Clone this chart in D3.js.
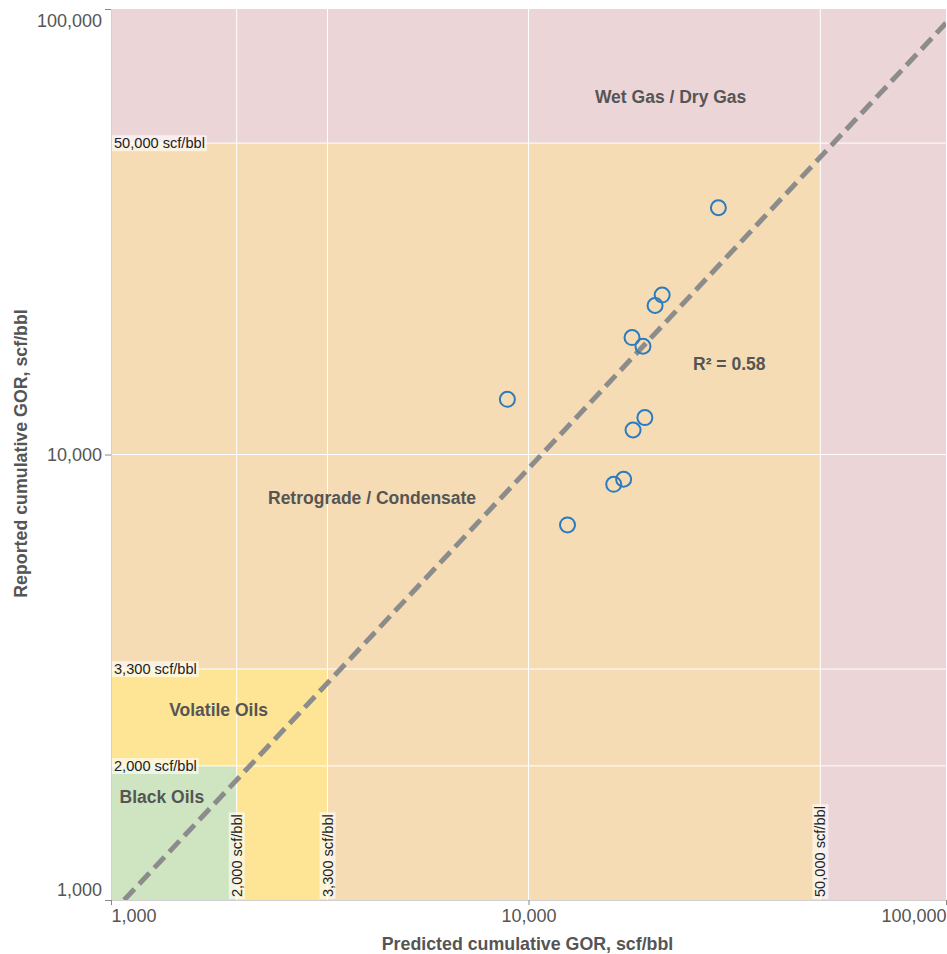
<!DOCTYPE html>
<html>
<head>
<meta charset="utf-8">
<script src="https://cdn.jsdelivr.net/npm/d3@7/dist/d3.min.js"></script>
<style>
  html, body { margin: 0; padding: 0; background: #fff; }
  svg { display: block; font-family: "Liberation Sans", Arial, sans-serif; }
</style>
</head>
<body>
<svg id="chart" width="947" height="954"></svg>
<script>
// Wells: predicted vs reported cumulative GOR (scf/bbl)
const predictedGOR = [28500, 20900, 20100, 17700, 18800, 8900, 19000, 17800, 16900, 16000, 12400];
const reportedGOR  = [35800, 22800, 21600, 18300, 17500, 13300, 12100, 11350, 8800, 8570, 6950];

// Fluid-type thresholds (scf/bbl)
const thresholds = [2000, 3300, 50000];
const thresholdLabels = ["2,000 scf/bbl", "3,300 scf/bbl", "50,000 scf/bbl"];
const gridValues = [2000, 3300, 10000, 50000];

// Axis ticks
const tickValues = [1000, 10000, 100000];
const tickLabels = ["1,000", "10,000", "100,000"];

// Trend line through the origin and its fit
const trendSlope = 0.93;
const rSquaredLabel = "R\u00B2 = 0.58";

// Fluid-type zones: [xMin, xMax, yMin, yMax]
const zoneNames  = ["Wet Gas / Dry Gas", "Retrograde / Condensate", "Volatile Oils", "Black Oils"];
const zoneBounds = [[1000, 100000, 1000, 100000], [1000, 50000, 1000, 50000], [1000, 3300, 1000, 3300], [1000, 2000, 1000, 2000]];
const zoneColors = ["#ecd5d7", "#f6dcb4", "#fee596", "#cfe5c1"];
// Zone label anchor points in data units
const zoneLabelX = [21900, 4220, 1810, 1324];
const zoneLabelY = [63500, 7990, 2670, 1700];

const svg = d3.select("#chart");
const plotLeft = 111, plotRight = 946, plotTop = 9, plotBottom = 900;

const x = d3.scaleLog().domain([1000, 100000]).range([plotLeft, plotRight]);
const y = d3.scaleLog().domain([1000, 100000]).range([plotBottom, plotTop]);

svg.append("defs").append("clipPath").attr("id", "plot-clip")
  .append("rect").attr("x", plotLeft).attr("y", plotTop)
  .attr("width", plotRight - plotLeft).attr("height", plotBottom - plotTop);

const plot = svg.append("g").attr("clip-path", "url(#plot-clip)");

// Zones
plot.selectAll("rect.zone").data(zoneBounds).join("rect")
  .attr("class", "zone")
  .attr("x", d => x(d[0]))
  .attr("y", d => y(d[3]))
  .attr("width", d => x(d[1]) - x(d[0]))
  .attr("height", d => y(d[2]) - y(d[3]))
  .attr("fill", (d, i) => zoneColors[i]);

// Grid lines
plot.selectAll("line.gx").data(gridValues).join("line")
  .attr("class", "gx")
  .attr("x1", d => x(d)).attr("x2", d => x(d))
  .attr("y1", plotTop).attr("y2", plotBottom)
  .attr("stroke", "#fff").attr("stroke-width", 1);
plot.selectAll("line.gy").data(gridValues).join("line")
  .attr("class", "gy")
  .attr("y1", d => y(d)).attr("y2", d => y(d))
  .attr("x1", plotLeft).attr("x2", plotRight)
  .attr("stroke", "#fff").attr("stroke-width", 1);

// Threshold labels on the left (horizontal) and bottom (vertical)
const tagFont = 14.6;
thresholds.forEach((v, i) => {
  const gh = plot.append("g");
  const th = gh.append("text")
    .attr("x", plotLeft + 3).attr("y", y(v)).attr("dy", "0.35em")
    .attr("font-size", tagFont).attr("fill", "#222")
    .text(thresholdLabels[i]);
  const bh = th.node().getBBox();
  gh.insert("rect", "text")
    .attr("x", plotLeft + 1).attr("y", bh.y)
    .attr("width", bh.width + 4).attr("height", bh.height)
    .attr("fill", "#fff").attr("fill-opacity", 0.6);

  const gv = plot.append("g").attr("transform", `translate(${x(v)},${plotBottom - 3}) rotate(-90)`);
  const tv = gv.append("text")
    .attr("x", 0).attr("y", 0).attr("dy", "0.35em")
    .attr("font-size", tagFont).attr("fill", "#222")
    .text(thresholdLabels[i]);
  const bv = tv.node().getBBox();
  gv.insert("rect", "text")
    .attr("x", -2).attr("y", bv.y)
    .attr("width", bv.width + 4).attr("height", bv.height)
    .attr("fill", "#fff").attr("fill-opacity", 0.6);
});

// Zone names
svg.selectAll("text.zone-label").data(zoneNames).join("text")
  .attr("class", "zone-label")
  .attr("x", (d, i) => x(zoneLabelX[i]))
  .attr("y", (d, i) => y(zoneLabelY[i]))
  .attr("dy", "0.35em")
  .attr("text-anchor", "middle")
  .attr("font-size", 17.5).attr("font-weight", "bold").attr("fill", "#555")
  .text(d => d);

// Trend line y = slope * x
const trendX = [1000 / trendSlope, 100000];
plot.append("path")
  .datum(trendX)
  .attr("d", d3.line().x(d => x(d)).y(d => y(trendSlope * d)))
  .attr("fill", "none")
  .attr("stroke", "#8c8c8c")
  .attr("stroke-width", 5)
  .attr("stroke-dasharray", "15,7");

svg.append("text")
  .attr("x", x(30260)).attr("y", y(15970)).attr("dy", "0.35em")
  .attr("text-anchor", "middle")
  .attr("font-size", 17.5).attr("font-weight", "bold").attr("fill", "#555")
  .text(rSquaredLabel);

// Data points
plot.selectAll("circle.pt").data(predictedGOR).join("circle")
  .attr("class", "pt")
  .attr("cx", d => x(d))
  .attr("cy", (d, i) => y(reportedGOR[i]))
  .attr("r", 7.5)
  .attr("fill", "none")
  .attr("stroke", "#2b7bbf")
  .attr("stroke-width", 2);

// Axes
const fmt = v => tickLabels[tickValues.indexOf(v)];
const yAxis = svg.append("g").attr("transform", `translate(${plotLeft},0)`)
  .call(d3.axisLeft(y).tickValues(tickValues).tickFormat(fmt).tickSize(6).tickPadding(3));
const xAxis = svg.append("g").attr("transform", `translate(0,${plotBottom})`)
  .call(d3.axisBottom(x).tickValues(tickValues).tickFormat(fmt).tickSize(5).tickPadding(4));

[yAxis, xAxis].forEach(a => {
  a.select(".domain").attr("stroke", "#d0d0d0");
  a.selectAll(".tick line").attr("stroke", "#888");
  a.selectAll(".tick text").attr("font-size", 18).attr("fill", "#555")
    .attr("font-family", "\"Liberation Sans\", Arial, sans-serif");
});
// Keep end labels inside the plot extent
yAxis.selectAll(".tick text").attr("dy", d => d === 100000 ? "0.95em" : d === 1000 ? "-0.25em" : "0.35em");
xAxis.selectAll(".tick text").attr("text-anchor", d => d === 1000 ? "start" : d === 100000 ? "end" : "middle");

// Axis titles
svg.append("text")
  .attr("x", (plotLeft + plotRight) / 2 - 1).attr("y", 944).attr("dy", "0.35em")
  .attr("text-anchor", "middle")
  .attr("font-size", 17.8).attr("font-weight", "bold").attr("fill", "#555")
  .text("Predicted cumulative GOR, scf/bbl");
svg.append("text")
  .attr("transform", `translate(21,${(plotTop + plotBottom) / 2 - 1}) rotate(-90)`)
  .attr("dy", "0.35em")
  .attr("text-anchor", "middle")
  .attr("font-size", 17.8).attr("font-weight", "bold").attr("fill", "#555")
  .text("Reported cumulative GOR, scf/bbl");
</script>
</body>
</html>
